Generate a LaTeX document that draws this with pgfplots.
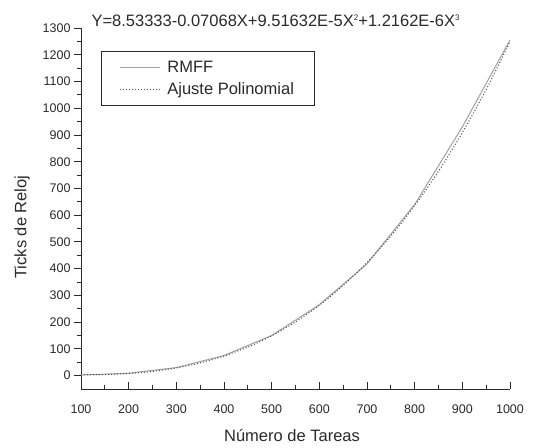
\documentclass[border=0pt]{standalone}
\usepackage{fontspec}
\setmainfont{Liberation Sans}
\usepackage{pgfplots}
\pgfplotsset{compat=1.18}

\definecolor{rmff}{HTML}{A0A0A0}
\definecolor{fitc}{HTML}{4A4A4A}
\definecolor{axc}{HTML}{2A2A2A}

% measured clock ticks
\pgfplotstableread{
n     t
100   2
200   9
300   30
400   75
500   150
600   265
700   418
800   640
900   930
1000  1255
}\rmffdata

% cubic fit evaluated every 50 tasks
\pgfplotstableread{
n     t
100   3.63
150   4.18
200   7.93
250   15.81
300   28.73
350   47.60
400   73.32
450   106.82
500   149.01
550   200.79
600   263.08
650   336.80
700   422.84
750   522.14
800   635.59
850   764.11
900   908.61
950   1070.01
1000  1249.22
}\fitdata

\begin{document}
\begin{tikzpicture}
\useasboundingbox (-81pt,-58pt) rectangle (457pt,389pt);
\begin{axis}[
  at={(0pt,0pt)}, anchor=south west,
  scale only axis, width=429pt, height=361pt,
  xmin=100, xmax=1000, ymin=-50, ymax=1300,
  axis x line*=bottom, axis y line*=left,
  axis line style={axc, line width=0.9pt},
  xtick={100,200,...,1000}, ytick={0,100,...,1300},
  minor x tick num=1, minor y tick num=1,
  xtick align=inside, ytick align=outside,
  major tick length=7pt, minor tick length=4pt,
  tick style={axc, line width=0.9pt},
  ticklabel style={font=\fontsize{12.5}{14}\selectfont, text=axc},
  xticklabel style={yshift=-12pt},
  /pgf/number format/assume math mode=true,
  /pgf/number format/1000 sep={},
  legend style={at={(0.0466,0.936)}, anchor=north west,
    draw=axc, line width=0.8pt, inner xsep=18pt, inner ysep=8pt,
    font=\fontsize{16.5}{19}\selectfont, text=axc,
    row sep=4pt, column sep=5pt},
  legend cell align=left,
  legend image code/.code={\draw[#1] (0pt,0pt) -- (40pt,0pt);},
  clip=false,
]
\addplot[rmff, line width=1pt] table[x=n, y=t] {\rmffdata};
\addlegendentry{RMFF}
\addplot[fitc, line width=1pt, smooth, dash pattern=on 1pt off 2pt] table[x=n, y=t] {\fitdata};
\addlegendentry{Ajuste Polinomial}
\end{axis}
\node[anchor=base west, text=axc, font=\fontsize{16.5}{19}\selectfont] at (7pt,362pt)
  {Y=8.53333-0.07068X+9.51632E-5X\raisebox{6pt}{\fontsize{8}{9}\selectfont 2}+1.2162E-6X\raisebox{6pt}{\fontsize{8}{9}\selectfont 3}};
\node[anchor=base, text=axc, font=\fontsize{16.5}{19}\selectfont] at (211pt,-52pt) {Número de Tareas};
\node[rotate=90, text=axc, font=\fontsize{16.5}{19}\selectfont] at (-59pt,162pt) {Ticks de Reloj};
\end{tikzpicture}
\end{document}
